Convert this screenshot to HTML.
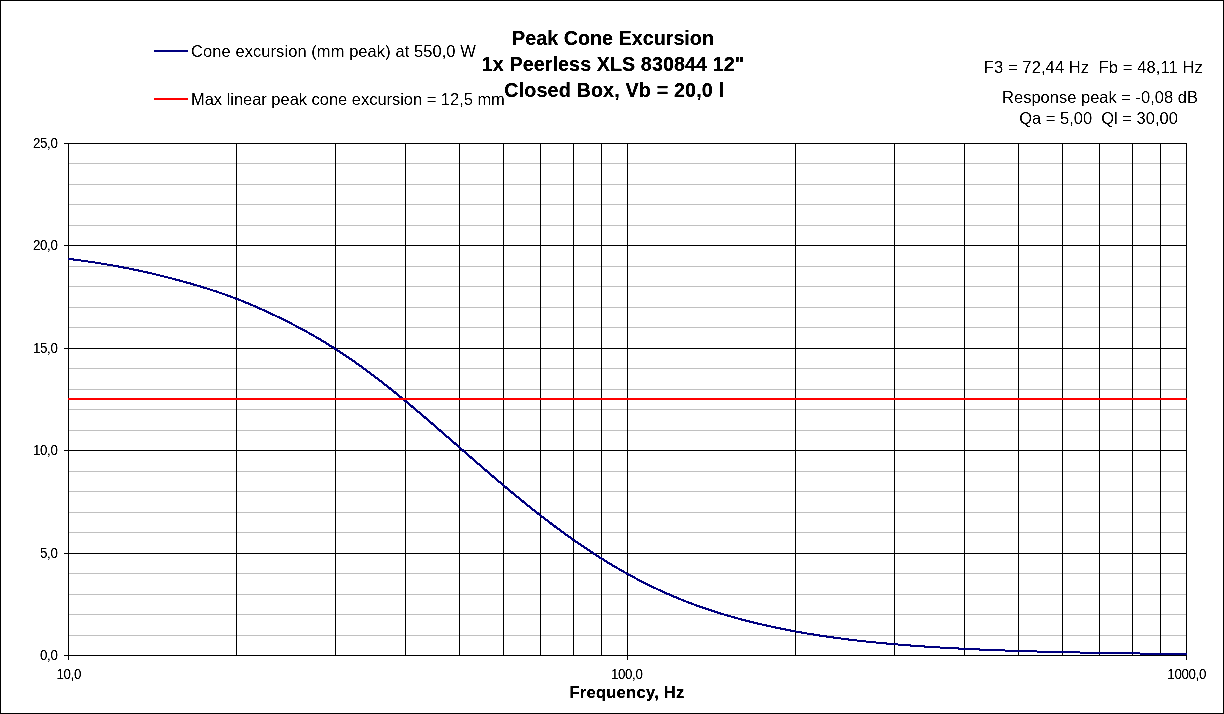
<!DOCTYPE html>
<html><head><meta charset="utf-8"><title>Peak Cone Excursion</title>
<style>
html,body{margin:0;padding:0;background:#fff;}
body{width:1224px;height:714px;overflow:hidden;position:relative;font-family:"Liberation Sans",sans-serif;}
svg{position:absolute;left:0;top:0;display:block}
text{font-family:"Liberation Sans",sans-serif;fill:#000}
.tk{font-size:13.33px;letter-spacing:-0.35px}
.ti{font-size:19.75px;font-weight:bold}
.lg{font-size:16.5px}
.ax{font-size:16.5px;font-weight:bold;letter-spacing:0.28px}
</style></head>
<body>
<svg width="1224" height="714" viewBox="0 0 1224 714">
<defs>
<filter id="f1" x="0" y="0" width="1224" height="714" filterUnits="userSpaceOnUse" color-interpolation-filters="sRGB"><feComponentTransfer><feFuncA type="linear" slope="2.5" intercept="-0.75"/></feComponentTransfer></filter>
<filter id="f2" x="0" y="0" width="1224" height="714" filterUnits="userSpaceOnUse" color-interpolation-filters="sRGB"><feComponentTransfer><feFuncA type="linear" slope="2" intercept="-0.38"/></feComponentTransfer></filter>
<filter id="f3" x="0" y="0" width="1224" height="714" filterUnits="userSpaceOnUse" color-interpolation-filters="sRGB"><feComponentTransfer><feFuncA type="linear" slope="2.4" intercept="-0.4"/></feComponentTransfer></filter>
</defs>
<rect x="0" y="0" width="1224" height="714" fill="#fff"/>
<rect x="0.5" y="0.5" width="1223" height="713" fill="none" stroke="#000" stroke-width="1" shape-rendering="crispEdges"/>
<g shape-rendering="crispEdges">
<rect x="69" y="635" width="1117" height="1" fill="#c0c0c0"/>
<rect x="69" y="614" width="1117" height="1" fill="#c0c0c0"/>
<rect x="69" y="594" width="1117" height="1" fill="#c0c0c0"/>
<rect x="69" y="573" width="1117" height="1" fill="#c0c0c0"/>
<rect x="69" y="532" width="1117" height="1" fill="#c0c0c0"/>
<rect x="69" y="512" width="1117" height="1" fill="#c0c0c0"/>
<rect x="69" y="491" width="1117" height="1" fill="#c0c0c0"/>
<rect x="69" y="471" width="1117" height="1" fill="#c0c0c0"/>
<rect x="69" y="430" width="1117" height="1" fill="#c0c0c0"/>
<rect x="69" y="409" width="1117" height="1" fill="#c0c0c0"/>
<rect x="69" y="389" width="1117" height="1" fill="#c0c0c0"/>
<rect x="69" y="368" width="1117" height="1" fill="#c0c0c0"/>
<rect x="69" y="327" width="1117" height="1" fill="#c0c0c0"/>
<rect x="69" y="307" width="1117" height="1" fill="#c0c0c0"/>
<rect x="69" y="286" width="1117" height="1" fill="#c0c0c0"/>
<rect x="69" y="266" width="1117" height="1" fill="#c0c0c0"/>
<rect x="69" y="225" width="1117" height="1" fill="#c0c0c0"/>
<rect x="69" y="204" width="1117" height="1" fill="#c0c0c0"/>
<rect x="69" y="184" width="1117" height="1" fill="#c0c0c0"/>
<rect x="69" y="163" width="1117" height="1" fill="#c0c0c0"/>
<rect x="64" y="655" width="1123" height="1" fill="#000"/>
<rect x="64" y="553" width="1123" height="1" fill="#000"/>
<rect x="64" y="450" width="1123" height="1" fill="#000"/>
<rect x="64" y="348" width="1123" height="1" fill="#000"/>
<rect x="64" y="245" width="1123" height="1" fill="#000"/>
<rect x="64" y="143" width="1123" height="1" fill="#000"/>
<rect x="68" y="143" width="1" height="517" fill="#000"/>
<rect x="236" y="143" width="1" height="513" fill="#000"/>
<rect x="335" y="143" width="1" height="513" fill="#000"/>
<rect x="405" y="143" width="1" height="513" fill="#000"/>
<rect x="459" y="143" width="1" height="513" fill="#000"/>
<rect x="503" y="143" width="1" height="513" fill="#000"/>
<rect x="540" y="143" width="1" height="513" fill="#000"/>
<rect x="573" y="143" width="1" height="513" fill="#000"/>
<rect x="601" y="143" width="1" height="513" fill="#000"/>
<rect x="627" y="143" width="1" height="517" fill="#000"/>
<rect x="795" y="143" width="1" height="513" fill="#000"/>
<rect x="894" y="143" width="1" height="513" fill="#000"/>
<rect x="964" y="143" width="1" height="513" fill="#000"/>
<rect x="1018" y="143" width="1" height="513" fill="#000"/>
<rect x="1062" y="143" width="1" height="513" fill="#000"/>
<rect x="1099" y="143" width="1" height="513" fill="#000"/>
<rect x="1132" y="143" width="1" height="513" fill="#000"/>
<rect x="1160" y="143" width="1" height="513" fill="#000"/>
<rect x="1186" y="143" width="1" height="517" fill="#000"/>
</g>
<path d="M68 258h5v2h-5zM73 258h1v3h-1zM74 259h7v2h-7zM81 260h7v2h-7zM88 261h7v2h-7zM95 262h6v2h-6zM101 263h6v2h-6zM107 264h6v2h-6zM113 265h5v2h-5zM118 265h1v3h-1zM119 266h4v2h-4zM123 266h1v3h-1zM124 267h5v2h-5zM129 268h4v2h-4zM133 268h1v3h-1zM134 269h4v2h-4zM138 269h1v3h-1zM139 270h4v2h-4zM143 271h4v2h-4zM147 271h1v3h-1zM148 272h4v2h-4zM152 273h4v2h-4zM156 274h4v2h-4zM160 275h4v2h-4zM164 276h4v2h-4zM168 277h4v2h-4zM172 278h3v2h-3zM175 278h1v3h-1zM176 279h3v2h-3zM179 279h1v3h-1zM180 280h3v2h-3zM183 281h3v2h-3zM186 281h1v3h-1zM187 282h3v2h-3zM190 282h1v3h-1zM191 283h2v2h-2zM193 283h1v3h-1zM194 284h3v2h-3zM197 285h3v2h-3zM200 285h1v3h-1zM201 286h2v2h-2zM203 286h1v3h-1zM204 287h3v2h-3zM207 288h3v2h-3zM210 289h3v2h-3zM213 290h3v2h-3zM216 290h1v3h-1zM217 291h2v2h-2zM219 292h3v2h-3zM222 293h3v2h-3zM225 294h2v2h-2zM227 294h1v3h-1zM228 295h2v2h-2zM230 295h1v3h-1zM231 296h2v2h-2zM233 297h2v2h-2zM235 297h1v3h-1zM236 298h2v2h-2zM238 298h1v3h-1zM239 299h2v2h-2zM241 300h2v2h-2zM243 300h1v3h-1zM244 301h1v2h-1zM245 301h1v3h-1zM246 302h2v2h-2zM248 302h1v3h-1zM249 303h1v2h-1zM250 303h1v3h-1zM251 304h2v2h-2zM253 305h2v2h-2zM255 305h1v3h-1zM256 306h1v2h-1zM257 306h1v3h-1zM258 307h1v2h-1zM259 307h1v3h-1zM260 308h2v2h-2zM262 309h2v2h-2zM264 309h1v3h-1zM265 310h1v2h-1zM266 310h1v3h-1zM267 311h1v2h-1zM268 311h1v3h-1zM269 312h1v2h-1zM270 312h1v3h-1zM271 313h1v2h-1zM272 313h1v3h-1zM273 314h2v2h-2zM275 315h2v2h-2zM277 316h2v2h-2zM279 316h1v3h-1zM280 317h1v2h-1zM281 317h1v3h-1zM282 318h1v2h-1zM283 318h1v3h-1zM284 319h1v2h-1zM285 319h1v3h-1zM286 320h1v2h-1zM287 320h1v3h-1zM288 321h1v2h-1zM289 321h1v3h-1zM290 322h1v2h-1zM291 322h1v3h-1zM292 323h1v2h-1zM293 324h2v2h-2zM295 325h1v2h-1zM296 325h1v3h-1zM297 326h1v2h-1zM298 326h1v3h-1zM299 327h1v2h-1zM300 327h1v3h-1zM301 328h1v2h-1zM302 328h1v3h-1zM303 329h1v2h-1zM304 329h1v3h-1zM305 330h1v2h-1zM306 330h1v3h-1zM307 331h1v2h-1zM308 332h1v2h-1zM309 332h1v3h-1zM310 333h1v2h-1zM311 333h1v3h-1zM312 334h1v2h-1zM313 334h1v3h-1zM314 335h1v2h-1zM315 336h1v2h-1zM316 336h1v3h-1zM317 337h1v2h-1zM318 337h1v3h-1zM319 338h1v2h-1zM320 338h1v3h-1zM321 339h1v3h-1zM322 340h1v2h-1zM323 340h1v3h-1zM324 341h1v2h-1zM325 341h1v3h-1zM326 342h1v3h-1zM327 343h1v2h-1zM328 343h1v3h-1zM329 344h1v3h-1zM330 345h1v2h-1zM331 345h1v3h-1zM332 346h1v2h-1zM333 346h1v3h-1zM334 347h1v3h-1zM335 348h1v2h-1zM336 348h1v3h-1zM337 349h1v3h-1zM338 350h1v2h-1zM339 350h1v3h-1zM340 351h1v3h-1zM341 352h1v2h-1zM342 352h1v3h-1zM343 353h1v3h-1zM344 354h1v2h-1zM345 354h1v3h-1zM346 355h1v3h-1zM347 356h1v2h-1zM348 356h1v3h-1zM349 357h1v3h-1zM350 358h1v2h-1zM351 358h1v3h-1zM352 359h1v3h-1zM353 360h1v2h-1zM354 360h1v3h-1zM355 361h1v3h-1zM356 362h1v3h-1zM357 363h1v2h-1zM358 363h1v3h-1zM359 364h1v3h-1zM360 365h1v2h-1zM361 365h1v3h-1zM362 366h1v3h-1zM363 367h1v3h-1zM364 368h1v2h-1zM365 368h1v3h-1zM366 369h1v3h-1zM367 370h1v3h-1zM368 371h1v2h-1zM369 371h1v3h-1zM370 372h1v3h-1zM371 373h1v3h-1zM372 374h1v2h-1zM373 374h1v3h-1zM374 375h1v3h-1zM375 376h1v3h-1zM376 377h1v2h-1zM377 377h1v3h-1zM378 378h1v3h-1zM379 379h1v3h-1zM380 380h1v2h-1zM381 380h1v3h-1zM382 381h1v3h-1zM383 382h1v3h-1zM384 383h1v3h-1zM385 384h1v2h-1zM386 384h1v3h-1zM387 385h1v3h-1zM388 386h1v3h-1zM389 387h2v3h-2zM391 388h1v3h-1zM392 389h1v3h-1zM393 390h1v3h-1zM394 391h2v3h-2zM396 392h1v3h-1zM397 393h1v3h-1zM398 394h1v3h-1zM399 395h1v3h-1zM400 396h1v2h-1zM401 396h1v3h-1zM402 397h1v3h-1zM403 398h1v3h-1zM404 399h1v3h-1zM405 400h2v3h-2zM407 401h1v3h-1zM408 402h1v3h-1zM409 403h1v3h-1zM410 404h1v3h-1zM411 405h2v3h-2zM413 406h1v3h-1zM414 407h1v3h-1zM415 408h1v3h-1zM416 409h1v3h-1zM417 410h1v3h-1zM418 411h1v2h-1zM419 411h1v3h-1zM420 412h1v3h-1zM421 413h1v3h-1zM422 414h1v3h-1zM423 415h1v3h-1zM424 416h2v3h-2zM426 417h1v3h-1zM427 418h1v3h-1zM428 419h1v3h-1zM429 420h1v3h-1zM430 421h1v3h-1zM431 422h2v3h-2zM433 423h1v3h-1zM434 424h1v3h-1zM435 425h1v3h-1zM436 426h1v3h-1zM437 427h1v3h-1zM438 428h1v3h-1zM439 429h2v3h-2zM441 430h1v3h-1zM442 431h1v3h-1zM443 432h1v3h-1zM444 433h1v3h-1zM445 434h1v3h-1zM446 435h1v3h-1zM447 436h1v2h-1zM448 436h1v3h-1zM449 437h1v3h-1zM450 438h1v3h-1zM451 439h1v3h-1zM452 440h1v3h-1zM453 441h1v3h-1zM454 442h2v3h-2zM456 443h1v3h-1zM457 444h1v3h-1zM458 445h1v3h-1zM459 446h1v3h-1zM460 447h1v3h-1zM461 448h1v3h-1zM462 449h2v3h-2zM464 450h1v3h-1zM465 451h1v3h-1zM466 452h1v3h-1zM467 453h1v3h-1zM468 454h1v3h-1zM469 455h1v3h-1zM470 456h2v3h-2zM472 457h1v3h-1zM473 458h1v3h-1zM474 459h1v3h-1zM475 460h1v3h-1zM476 461h1v3h-1zM477 462h1v3h-1zM478 463h1v2h-1zM479 463h1v3h-1zM480 464h1v3h-1zM481 465h1v3h-1zM482 466h1v3h-1zM483 467h1v3h-1zM484 468h1v3h-1zM485 469h2v3h-2zM487 470h1v3h-1zM488 471h1v3h-1zM489 472h1v3h-1zM490 473h1v3h-1zM491 474h1v3h-1zM492 475h2v3h-2zM494 476h1v3h-1zM495 477h1v3h-1zM496 478h1v3h-1zM497 479h1v3h-1zM498 480h1v3h-1zM499 481h1v2h-1zM500 481h1v3h-1zM501 482h1v3h-1zM502 483h1v3h-1zM503 484h1v3h-1zM504 485h1v3h-1zM505 486h2v3h-2zM507 487h1v3h-1zM508 488h1v3h-1zM509 489h1v3h-1zM510 490h1v3h-1zM511 491h2v3h-2zM513 492h1v3h-1zM514 493h1v3h-1zM515 494h1v3h-1zM516 495h1v3h-1zM517 496h1v2h-1zM518 496h1v3h-1zM519 497h1v3h-1zM520 498h1v3h-1zM521 499h1v3h-1zM522 500h2v3h-2zM524 501h1v3h-1zM525 502h1v3h-1zM526 503h1v3h-1zM527 504h1v3h-1zM528 505h1v2h-1zM529 505h1v3h-1zM530 506h1v3h-1zM531 507h1v3h-1zM532 508h1v3h-1zM533 509h1v2h-1zM534 509h1v3h-1zM535 510h1v3h-1zM536 511h1v3h-1zM537 512h2v3h-2zM539 513h1v3h-1zM540 514h1v3h-1zM541 515h1v3h-1zM542 516h1v2h-1zM543 516h1v3h-1zM544 517h1v3h-1zM545 518h1v3h-1zM546 519h1v2h-1zM547 519h1v3h-1zM548 520h1v3h-1zM549 521h1v3h-1zM550 522h2v3h-2zM552 523h1v3h-1zM553 524h1v3h-1zM554 525h2v3h-2zM556 526h1v3h-1zM557 527h1v3h-1zM558 528h1v2h-1zM559 528h1v3h-1zM560 529h1v3h-1zM561 530h1v3h-1zM562 531h1v2h-1zM563 531h1v3h-1zM564 532h1v3h-1zM565 533h1v3h-1zM566 534h1v2h-1zM567 534h1v3h-1zM568 535h1v3h-1zM569 536h1v2h-1zM570 536h1v3h-1zM571 537h1v3h-1zM572 538h1v3h-1zM573 539h1v2h-1zM574 539h1v3h-1zM575 540h1v3h-1zM576 541h1v2h-1zM577 541h1v3h-1zM578 542h1v3h-1zM579 543h1v2h-1zM580 543h1v3h-1zM581 544h1v3h-1zM582 545h1v2h-1zM583 545h1v3h-1zM584 546h1v3h-1zM585 547h1v2h-1zM586 547h1v3h-1zM587 548h1v3h-1zM588 549h1v2h-1zM589 549h1v3h-1zM590 550h1v3h-1zM591 551h1v2h-1zM592 551h1v3h-1zM593 552h1v3h-1zM594 553h1v2h-1zM595 553h1v3h-1zM596 554h1v3h-1zM597 555h1v2h-1zM598 555h1v3h-1zM599 556h1v3h-1zM600 557h1v2h-1zM601 557h1v3h-1zM602 558h1v2h-1zM603 558h1v3h-1zM604 559h1v3h-1zM605 560h1v2h-1zM606 560h1v3h-1zM607 561h1v3h-1zM608 562h1v2h-1zM609 562h1v3h-1zM610 563h1v2h-1zM611 563h1v3h-1zM612 564h1v3h-1zM613 565h1v2h-1zM614 565h1v3h-1zM615 566h1v2h-1zM616 566h1v3h-1zM617 567h1v2h-1zM618 568h1v2h-1zM619 568h1v3h-1zM620 569h1v2h-1zM621 569h1v3h-1zM622 570h1v2h-1zM623 570h1v3h-1zM624 571h1v2h-1zM625 572h1v2h-1zM626 572h1v3h-1zM627 573h1v2h-1zM628 573h1v3h-1zM629 574h1v2h-1zM630 574h1v3h-1zM631 575h1v2h-1zM632 575h1v3h-1zM633 576h1v2h-1zM634 576h1v3h-1zM635 577h1v2h-1zM636 578h1v2h-1zM637 578h1v3h-1zM638 579h1v2h-1zM639 579h1v3h-1zM640 580h1v2h-1zM641 580h1v3h-1zM642 581h1v2h-1zM643 581h1v3h-1zM644 582h1v2h-1zM645 582h1v3h-1zM646 583h1v2h-1zM647 583h1v3h-1zM648 584h1v2h-1zM649 584h1v3h-1zM650 585h1v2h-1zM651 585h1v3h-1zM652 586h1v2h-1zM653 586h1v3h-1zM654 587h2v2h-2zM656 588h2v2h-2zM658 589h2v2h-2zM660 589h1v3h-1zM661 590h1v2h-1zM662 590h1v3h-1zM663 591h1v2h-1zM664 591h1v3h-1zM665 592h1v2h-1zM666 592h1v3h-1zM667 593h2v2h-2zM669 593h1v3h-1zM670 594h1v2h-1zM671 594h1v3h-1zM672 595h1v2h-1zM673 595h1v3h-1zM674 596h2v2h-2zM676 596h1v3h-1zM677 597h1v2h-1zM678 597h1v3h-1zM679 598h2v2h-2zM681 599h2v2h-2zM683 599h1v3h-1zM684 600h2v2h-2zM686 601h2v2h-2zM688 601h1v3h-1zM689 602h2v2h-2zM691 602h1v3h-1zM692 603h2v2h-2zM694 604h2v2h-2zM696 604h1v3h-1zM697 605h2v2h-2zM699 605h1v3h-1zM700 606h2v2h-2zM702 606h1v3h-1zM703 607h2v2h-2zM705 607h1v3h-1zM706 608h2v2h-2zM708 608h1v3h-1zM709 609h2v2h-2zM711 609h1v3h-1zM712 610h2v2h-2zM714 610h1v3h-1zM715 611h2v2h-2zM717 611h1v3h-1zM718 612h2v2h-2zM720 612h1v3h-1zM721 613h3v2h-3zM724 614h3v2h-3zM727 614h1v3h-1zM728 615h3v2h-3zM731 616h3v2h-3zM734 616h1v3h-1zM735 617h3v2h-3zM738 618h3v2h-3zM741 618h1v3h-1zM742 619h3v2h-3zM745 619h1v3h-1zM746 620h3v2h-3zM749 620h1v3h-1zM750 621h3v2h-3zM753 621h1v3h-1zM754 622h3v2h-3zM757 622h1v3h-1zM758 623h4v2h-4zM762 624h4v2h-4zM766 624h1v3h-1zM767 625h4v2h-4zM771 626h4v2h-4zM775 626h1v3h-1zM776 627h4v2h-4zM780 627h1v3h-1zM781 628h4v2h-4zM785 628h1v3h-1zM786 629h4v2h-4zM790 629h1v3h-1zM791 630h5v2h-5zM796 631h5v2h-5zM801 631h1v3h-1zM802 632h5v2h-5zM807 633h6v2h-6zM813 633h1v3h-1zM814 634h5v2h-5zM819 634h1v3h-1zM820 635h6v2h-6zM826 635h1v3h-1zM827 636h6v2h-6zM833 636h1v3h-1zM834 637h7v2h-7zM841 638h7v2h-7zM848 638h1v3h-1zM849 639h8v2h-8zM857 640h9v2h-9zM866 641h10v2h-10zM876 642h10v2h-10zM886 642h1v3h-1zM887 643h11v2h-11zM898 644h12v2h-12zM910 644h1v3h-1zM911 645h13v2h-13zM924 645h1v3h-1zM925 646h15v2h-15zM940 647h18v2h-18zM958 647h1v3h-1zM959 648h20v2h-20zM979 648h1v3h-1zM980 649h25v2h-25zM1005 650h32v2h-32zM1037 651h43v2h-43zM1080 652h60v2h-60zM1140 653h47v2h-47z" fill="#000080" shape-rendering="crispEdges"/>
<rect x="68" y="398" width="1119" height="2" fill="#ff0000" shape-rendering="crispEdges"/>
<!-- legend -->
<rect x="154" y="50" width="34" height="2" fill="#000080" shape-rendering="crispEdges"/>
<rect x="154" y="98" width="34" height="2" fill="#ff0000" shape-rendering="crispEdges"/>
<g filter="url(#f1)">
<text x="191" y="56.8" class="lg" style="letter-spacing:0.07px">Cone excursion (mm peak) at 550,0 W</text>
<text x="191" y="104.8" class="lg" style="letter-spacing:-0.03px">Max linear peak cone excursion = 12,5 mm</text>
</g>
<g filter="url(#f3)">
<!-- title -->
<text x="613" y="45" text-anchor="middle" class="ti">Peak Cone Excursion</text>
<text x="613" y="70.8" text-anchor="middle" class="ti" style="letter-spacing:0.06px">1x Peerless XLS 830844 12"</text>
<text x="614.2" y="96.5" text-anchor="middle" class="ti" style="letter-spacing:0.14px">Closed Box, Vb = 20,0 l</text>
</g>
<g filter="url(#f1)">
<!-- info -->
<text x="1093.3" y="72.5" text-anchor="middle" class="lg" style="letter-spacing:0.1px" xml:space="preserve">F3 = 72,44 Hz  Fb = 48,11 Hz</text>
<text x="1100" y="102.5" text-anchor="middle" class="lg">Response peak = -0,08 dB</text>
<text x="1098.5" y="123.5" text-anchor="middle" class="lg" xml:space="preserve">Qa = 5,00  Ql = 30,00</text>
</g>
<g filter="url(#f3)">
<text x="627" y="697.5" text-anchor="middle" class="ax">Frequency, Hz</text>
</g>
<!-- axis tick labels -->
<g filter="url(#f2)">
<text transform="translate(57.5,659.7) scale(1,1.07)" text-anchor="end" class="tk">0,0</text>
<text transform="translate(57.5,557.7) scale(1,1.07)" text-anchor="end" class="tk">5,0</text>
<text transform="translate(57.5,454.7) scale(1,1.07)" text-anchor="end" class="tk">10,0</text>
<text transform="translate(57.5,352.7) scale(1,1.07)" text-anchor="end" class="tk">15,0</text>
<text transform="translate(57.5,249.7) scale(1,1.07)" text-anchor="end" class="tk">20,0</text>
<text transform="translate(57.5,147.7) scale(1,1.07)" text-anchor="end" class="tk">25,0</text>
<text transform="translate(68.7,678.7) scale(1,1.07)" text-anchor="middle" class="tk">10,0</text>
<text transform="translate(626.7,678.7) scale(1,1.07)" text-anchor="middle" class="tk">100,0</text>
<text transform="translate(1186.7,678.7) scale(1,1.07)" text-anchor="middle" class="tk">1000,0</text>
</g>
</svg>
</body></html>
